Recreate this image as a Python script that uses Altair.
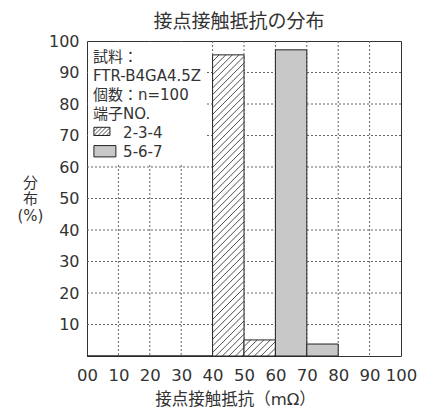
import altair as alt
import pandas as pd

# ---- data -------------------------------------------------------------
chart_title = "接点接触抵抗の分布"
x_title = "接点接触抵抗（mΩ）"
y_title = ["分", "布", "(%)"]
legend_lines = ["試料：", "FTR-B4GA4.5Z", "個数：n=100", "端子NO."]
series_names = ["2-3-4", "5-6-7"]

bin_width = 10
bins_234 = [0, 10, 20, 30, 40, 50]
vals_234 = [0, 0, 0, 0, 95.6, 5.1]
bins_567 = [60, 70]
vals_567 = [97.2, 3.8]

x_ticks = [0, 10, 20, 30, 40, 50, 60, 70, 80, 90, 100]
y_ticks = [10, 20, 30, 40, 50, 60, 70, 80, 90, 100]
grid_vals = [10, 20, 30, 40, 50, 60, 70, 80, 90]

FONT = 'DejaVu Sans, "Noto Sans CJK JP", sans-serif'
TXT = "#333333"
GRAY = "#c8c8c8"
GRID = "#666666"
HATCH_STEP = 2.1


def hatch(xa, xb, y0, y1, step, k=1.0):
    segs = []
    h = y1 - y0
    if h <= 0:
        return segs
    c = xa - h / k
    while c < xb:
        xs = max(xa, c)
        xe = min(xb, c + h / k)
        if xe > xs:
            segs.append((xs, y0 + k * (xs - c), xe, y0 + k * (xe - c)))
        c += step
    return segs


df234 = pd.DataFrame({"lo": bins_234, "val": vals_234})
df234["hi"] = df234["lo"] + bin_width
df234["base"] = 0
df567 = pd.DataFrame({"lo": bins_567, "val": vals_567})
df567["hi"] = df567["lo"] + bin_width
df567["base"] = 0

segs = []
for lo, v in zip(bins_234, vals_234):
    segs += hatch(lo, lo + bin_width, 0, v, HATCH_STEP)
hatch_df = pd.DataFrame(segs, columns=["x1", "y1", "x2", "y2"])

# legend swatches (data units)
sw1 = dict(x1=2.2, x2=7.3, y1=70.0, y2=72.6)
sw2 = dict(x1=2.2, x2=9.2, y1=63.2, y2=66.8)
sw_segs = hatch(sw1["x1"], sw1["x2"], sw1["y1"], sw1["y2"], 1.3)
sw_hatch_df = pd.DataFrame(sw_segs, columns=["x1", "y1", "x2", "y2"])
sw_df = pd.DataFrame([sw1])
sw2_df = pd.DataFrame([sw2])

leg_text_y = [94.9, 88.9, 82.9, 76.9]
leg_df = pd.DataFrame({"t": legend_lines, "x": [1.9] * 4, "y": leg_text_y})
leg_s_df = pd.DataFrame({"t": series_names, "x": [11.5, 11.5], "y": [70.9, 64.9]})

grid_df = pd.DataFrame({"v": grid_vals})

# ---- chart -------------------------------------------------------------
xs = alt.Scale(domain=[0, 100], nice=False, zero=False)
ys = alt.Scale(domain=[0, 100], nice=False, zero=False)

x_axis = alt.Axis(
    values=x_ticks, grid=False, ticks=False, domain=False, labelOverlap=False,
    labelExpr="datum.value == 0 ? '00' : datum.label",
    labelFontSize=16.5, labelPadding=11, labelColor=TXT, labelFlush=False,
    title=x_title, titleFontSize=16.5, titleFontWeight="normal", titleColor=TXT,
    titleX=148, titleY=43, titleAlign="center", titleBaseline="middle",
)
y_axis = alt.Axis(
    values=y_ticks, grid=False, ticks=False, domain=False, labelOverlap=False,
    labelFontSize=16, labelPadding=8, labelColor=TXT, labelBaseline="middle",
    title=y_title, titleFontSize=15, titleFontWeight="normal", titleColor=TXT,
    titleAngle=0, titleX=-57, titleY=141, titleAlign="center",
    titleBaseline="middle", titleLineHeight=16.5,
)


def X(f):
    return alt.X(f, scale=xs, axis=x_axis)


def Y(f):
    return alt.Y(f, scale=ys, axis=y_axis)


hgrid = alt.Chart(grid_df).mark_rule(color=GRID, strokeDash=[2, 2], strokeWidth=1).encode(
    y=Y("v:Q")
)
vgrid = alt.Chart(grid_df).mark_rule(color=GRID, strokeDash=[2, 2], strokeWidth=1).encode(
    x=X("v:Q")
)

bars234 = alt.Chart(df234).mark_rect(fill="white", stroke="#222222", strokeWidth=1).encode(
    x=X("lo:Q"), x2="hi:Q", y=Y("val:Q"), y2="base:Q"
)
hatch_lines = alt.Chart(hatch_df).mark_rule(color="#222222", strokeWidth=0.8).encode(
    x=X("x1:Q"), x2="x2:Q", y=Y("y1:Q"), y2="y2:Q"
)
bars567 = alt.Chart(df567).mark_rect(fill=GRAY, stroke="#222222", strokeWidth=1).encode(
    x=X("lo:Q"), x2="hi:Q", y=Y("val:Q"), y2="base:Q"
)

leg_box = alt.Chart(pd.DataFrame({"a": [0]})).mark_rect(fill="white").encode(
    x=alt.value(1), x2=alt.value(119), y=alt.value(1), y2=alt.value(122)
)
leg_text = alt.Chart(leg_df).mark_text(align="left", baseline="middle", fontSize=15, color=TXT).encode(
    x=X("x:Q"), y=Y("y:Q"), text="t:N"
)
leg_s_text = alt.Chart(leg_s_df).mark_text(align="left", baseline="middle", fontSize=15, color=TXT).encode(
    x=X("x:Q"), y=Y("y:Q"), text="t:N"
)
sw_rect1 = alt.Chart(sw_df).mark_rect(fill="white", stroke="#222222", strokeWidth=1).encode(
    x=X("x1:Q"), x2="x2:Q", y=Y("y1:Q"), y2="y2:Q"
)
sw_lines = alt.Chart(sw_hatch_df).mark_rule(color="#222222", strokeWidth=0.8).encode(
    x=X("x1:Q"), x2="x2:Q", y=Y("y1:Q"), y2="y2:Q"
)
sw_rect2 = alt.Chart(sw2_df).mark_rect(fill=GRAY, stroke="#222222", strokeWidth=1).encode(
    x=X("x1:Q"), x2="x2:Q", y=Y("y1:Q"), y2="y2:Q"
)

chart = alt.layer(
    hgrid, vgrid, bars234, hatch_lines, bars567,
    leg_box, leg_text, leg_s_text, sw_rect1, sw_lines, sw_rect2,
).properties(
    width=314, height=315,
    title=alt.Title(chart_title, fontSize=19, fontWeight="normal", color=TXT,
                    anchor="middle", offset=1, dx=-5),
    autosize=alt.AutoSizeParams(type="none"),
    padding={"left": 79, "top": 33, "right": 22, "bottom": 53},
).configure(
    font=FONT,
).configure_view(
    stroke="#333333", strokeWidth=1,
)

chart.save("out.html", embed_options={"renderer": "svg", "actions": False})
